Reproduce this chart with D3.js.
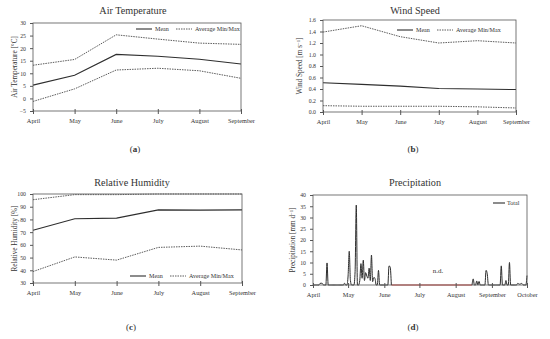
<!DOCTYPE html>
<html><head><meta charset="utf-8">
<script src="https://cdn.jsdelivr.net/npm/d3@7"></script>
<style>body{margin:0;background:#fff}svg{display:block}text{font-family:"Liberation Serif","Times New Roman",serif;fill:#333}</style>
</head><body><svg id="c" width="550" height="339"></svg>
<script>
const months = ["April","May","June","July","August","September"];
const tempMean = [5.3, 9.2, 17.5, 16.8, 15.6, 13.7];
const tempMax  = [13.2, 15.5, 25.3, 23.6, 22.0, 21.5];
const tempMin  = [-1.2, 3.8, 11.3, 12.0, 11.0, 8.0];
const windMean = [0.51, 0.48, 0.45, 0.41, 0.40, 0.39];
const windMax  = [1.39, 1.50, 1.31, 1.20, 1.24, 1.20];
const windMin  = [0.11, 0.10, 0.10, 0.10, 0.09, 0.07];
const rhMean = [71.5, 80.5, 81.0, 87.5, 87.3, 87.5];
const rhMax  = [95.5, 99.5, 99.5, 100, 100, 100];
const rhMin  = [39.0, 50.5, 48.0, 58.0, 59.0, 56.0];
const tempTicks = [-5,0,5,10,15,20,25,30];
const windTicks = [0,0.2,0.4,0.6,0.8,1.0,1.2,1.4,1.6];
const rhTicks = [30,40,50,60,70,80,90,100];
const precipTicks = [0,5,10,15,20,25,30,35,40];
const precipMonths = ["April","May","June","July","August","September","October"];
// daily precipitation from 1 April to 1 October (null = no data)
const precipDaily = [
 0,0,0,0,0,0,0.7,0.8,0.7,0,
 0,0,9.8,0,0,0,0,0,0,0,
 0,0,0,0,0,0,0,0.8,0,0,
 4,15,2,0,0,0,6,35.5,0,0,
 2,9.5,3,11,2,5.5,4,3,7.5,2,
 13.3,1.5,3.3,3,0,0,6.5,0,0,0,
 0,0,0,0,0,8.5,8,0,null,null,
 null,null,null,null,null,null,null,null,null,null,
 null,null,null,null,null,null,null,null,null,null,
 null,null,null,null,null,null,null,null,null,null,
 null,null,null,null,null,null,null,null,null,null,
 null,null,null,null,null,null,null,null,null,null,
 null,null,null,null,null,null,null,null,null,null,
 null,null,null,null,null,null,0,2.7,0,0,
 1.8,0,1.6,0,0,0,0,0,6.5,5,
 0,0,0,0,0,0,0,0,0,0,
 0,8.5,0,0,0,2,0,0,10,0,
 0,0,0,0,0,0.7,0.5,0.3,0.7,0.5,
 0,0,0,4.2
];

const svg = d3.select("#c");
const LINE = "#2e2e2e", DASH = "#4a4a4a";

function frame(g, x0, x1, y0, y1){
  g.append("rect").attr("x",x0).attr("y",y0).attr("width",x1-x0).attr("height",y1-y0)
   .attr("fill","none").attr("stroke","#555").attr("stroke-width",0.8);
}
function yAxis(g, y, ticks, x0, fmt){
  const ax = g.append("g").attr("transform",`translate(${x0},0)`)
    .call(d3.axisLeft(y).tickValues(ticks).tickSize(3).tickSizeOuter(0).tickFormat(fmt));
  ax.select(".domain").remove();
  ax.selectAll("line").attr("stroke","#555");
  ax.selectAll("text").style("font-size","5.8px").attr("dx","-1");
}
function xAxis(g, x, ticks, y0, fmt, dy){
  const ax = g.append("g").attr("transform",`translate(0,${y0})`)
    .call(d3.axisBottom(x).tickValues(ticks).tickSize(3).tickSizeOuter(0).tickFormat(fmt));
  ax.select(".domain").remove();
  ax.selectAll("line").attr("stroke","#555").attr("y1",-2);
  ax.selectAll("text").style("font-size","6.3px").attr("dy",dy||"0.9em");
}
function ylabel(g, txt, sup, x, yc){
  const t = g.append("text").attr("transform",`translate(${x},${yc}) rotate(-90)`)
    .attr("text-anchor","middle").style("font-size","7.2px");
  t.append("tspan").text(txt);
  if(sup){ t.append("tspan").attr("dy","-2.2").style("font-size","4.8px").text(sup);
           t.append("tspan").attr("dy","2.2").text("]"); }
}
function title(txt, x, y){
  svg.append("text").attr("x",x).attr("y",y).attr("text-anchor","middle").style("font-size","10.2px").text(txt);
}
function caption(letter, x, y){
  const t = svg.append("text").attr("x",x).attr("y",y).attr("text-anchor","middle").style("font-size","9px");
  t.append("tspan").text("(");
  t.append("tspan").style("font-weight","bold").text(letter);
  t.append("tspan").text(")");
}
function legendMM(g, lx, ly){
  g.append("line").attr("x1",lx).attr("x2",lx+16).attr("y1",ly).attr("y2",ly).attr("stroke",LINE).attr("stroke-width",1.1);
  g.append("text").attr("x",lx+19).attr("y",ly+2).style("font-size","6.1px").text("Mean");
  g.append("line").attr("x1",lx+40).attr("x2",lx+56).attr("y1",ly).attr("y2",ly).attr("stroke",DASH).attr("stroke-width",0.9).attr("stroke-dasharray","1.5,1");
  g.append("text").attr("x",lx+59).attr("y",ly+2).style("font-size","6.1px").text("Average Min/Max");
}
function monthPanel(o){
  const g = svg.append("g");
  const x = d3.scalePoint().domain(months).range([o.x0,o.x1]);
  const y = d3.scaleLinear().domain(o.dom).range([o.y1,o.y0]);
  const line = d3.line().x((d,i)=>x(months[i])).y(d=>y(d));
  g.append("path").attr("d",line(o.max)).attr("fill","none").attr("stroke",DASH).attr("stroke-width",0.9).attr("stroke-dasharray","1.5,1");
  g.append("path").attr("d",line(o.min)).attr("fill","none").attr("stroke",DASH).attr("stroke-width",0.9).attr("stroke-dasharray","1.5,1");
  g.append("path").attr("d",line(o.mean)).attr("fill","none").attr("stroke",LINE).attr("stroke-width",1.1);
  frame(g,o.x0,o.x1,o.y0,o.y1);
  yAxis(g,y,o.ticks,o.x0,o.fmt);
  xAxis(g,x,months,o.y1,null);
  ylabel(g,o.label,o.sup,o.lx,(o.y0+o.y1)/2);
  legendMM(g,o.legx,o.legy);
}

title("Air Temperature",133,14);
monthPanel({x0:33,x1:241,y0:23,y1:111,dom:[-5,30],ticks:tempTicks,fmt:d3.format("d"),
  mean:tempMean,max:tempMax,min:tempMin,label:"Air Temperature [°C]",lx:17,legx:136,legy:29});
caption("a",135,152);

title("Wind Speed",415,14);
monthPanel({x0:323,x1:516,y0:20,y1:112,dom:[0,1.6],ticks:windTicks,fmt:d3.format(".1f"),
  mean:windMean,max:windMax,min:windMin,label:"Wind Speed [m s",sup:"−1",lx:302,legx:397,legy:30});
caption("b",413,152);

title("Relative Humidity",132,186);
monthPanel({x0:33,x1:242,y0:194,y1:283,dom:[30,100],ticks:rhTicks,fmt:d3.format("d"),
  mean:rhMean,max:rhMax,min:rhMin,label:"Relative Humidity [%]",lx:17,legx:130,legy:276});
caption("c",131,330);

// Precipitation panel
title("Precipitation",415,186);
(function(){
  const g = svg.append("g");
  const x0=313,x1=527,y0=195,y1=285;
  const start = new Date(Date.UTC(2019,3,1));
  const dates = precipDaily.map((d,i)=>d3.utcDay.offset(start,i));
  const x = d3.scaleUtc().domain([dates[0],dates[dates.length-1]]).range([x0,x1]);
  const y = d3.scaleLinear().domain([0,40]).range([y1,y0]);
  const pts = precipDaily.map((v,i)=>({date:dates[i],v}));
  const gapIdx = pts.map((p,i)=>p.v===null?i:-1).filter(i=>i>=0);
  const gs = gapIdx[0]-1, ge = gapIdx[gapIdx.length-1]+1;
  g.append("line").attr("x1",x(pts[gs].date)).attr("x2",x(pts[ge].date)).attr("y1",y(0)).attr("y2",y(0))
   .attr("stroke","#e0413a").attr("stroke-width",1.1);
  const line = d3.line().defined(p=>p.v!==null).x(p=>x(p.date)).y(p=>y(p.v)).curve(d3.curveMonotoneX);
  g.append("path").attr("d",line(pts)).attr("fill","none").attr("stroke",LINE).attr("stroke-width",1);
  frame(g,x0,x1,y0,y1);
  yAxis(g,y,precipTicks,x0,d3.format("d"));
  const mt = precipMonths.map((m,i)=>d3.utcMonth.offset(start,i));
  xAxis(g,x,mt,y1,(d,i)=>precipMonths[i]);
  ylabel(g,"Precipitation [mm d",'−1',295,(y0+y1)/2);
  g.append("text").attr("x",438).attr("y",273).attr("text-anchor","middle").style("font-size","7px").text("n.d.");
  g.append("line").attr("x1",493).attr("x2",505).attr("y1",203).attr("y2",203).attr("stroke",LINE).attr("stroke-width",1.1);
  g.append("text").attr("x",507).attr("y",205).style("font-size","6.1px").text("Total");
})();
caption("d",413,330);
</script></body></html>
